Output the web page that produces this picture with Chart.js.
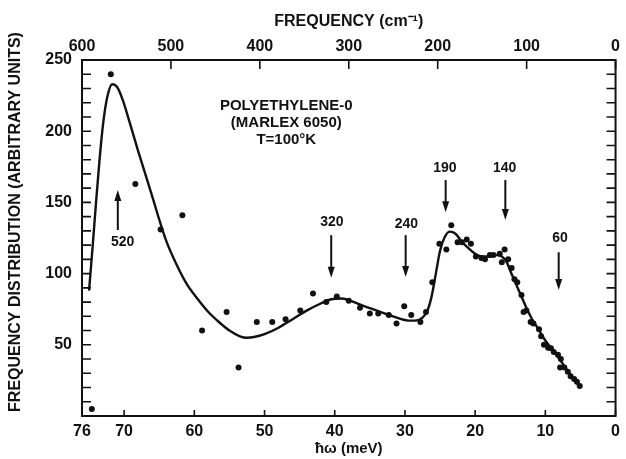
<!DOCTYPE html>
<html>
<head>
<meta charset="utf-8">
<script src="https://cdn.jsdelivr.net/npm/chart.js@4/dist/chart.umd.min.js"></script>
<style>
  html, body { margin: 0; padding: 0; background: #fff; }
  #wrap { width: 626px; height: 459px; }
</style>
</head>
<body>
<div id="wrap"><canvas id="c" width="626" height="459"></canvas></div>
<script>
// Smooth fitted curve: energy (meV) and frequency distribution
const curveMeV = [75.0, 74.5, 74.0, 73.5, 73.0, 72.4, 71.7, 71.0, 70.2, 69.2, 68.0, 66.8, 65.8, 65.0, 64.0, 62.5,
  61.0, 59.5, 58.0, 56.5, 55.0, 53.5, 52.5, 51.5, 50.0, 48.0, 46.0, 44.0, 42.0, 40.5, 39.0, 37.5, 36.0, 34.0,
  32.0, 30.5, 29.5, 28.5, 27.5, 26.8, 26.2, 25.6, 25.0, 24.3, 23.6, 22.8, 22.0, 21.0, 20.0, 19.0, 18.0, 17.0,
  16.2, 15.5, 15.0, 14.3, 13.5, 12.7, 12.0, 11.0, 10.0, 9.0, 8.0, 7.0, 6.0, 5.2];
const curveVal = [88, 118, 150, 180, 205, 224, 233, 231, 222, 206, 186, 167, 151, 138, 123, 106,
  92, 82, 73, 66, 60, 56, 55, 55.5, 57.5, 62, 68, 74, 79, 82, 82.5, 80.5, 77.5, 74,
  70.5, 68, 67, 67, 69, 74, 84, 100, 116, 126, 129.5, 128, 123, 118, 114, 112, 112, 113,
  112, 108, 102, 94, 85, 76, 69, 61, 53, 46.5, 40, 33, 26.5, 21];

// Measured points: energy (meV) and frequency distribution
const pointMeV = [74.6, 71.9, 68.4, 64.8, 61.7, 58.9, 55.4, 53.7, 51.1, 48.9, 47.0, 44.9, 43.1, 41.2, 39.7,
  38.0, 36.4, 35.0, 33.8, 32.3, 31.2, 30.1, 29.1, 27.8, 27.0, 26.1, 25.1, 24.1, 23.4, 22.5, 21.9, 21.2,
  20.6, 19.9, 19.1, 18.6, 17.9, 17.4, 16.5, 15.8, 16.2, 15.3, 14.8, 14.4, 14.0, 13.4, 13.1, 12.7, 12.1,
  11.7, 10.9, 10.6, 10.2, 9.6, 9.2, 8.8, 8.2, 7.8, 7.9, 7.3, 6.8, 6.4, 5.9, 5.5, 5.1];
const pointVal = [5, 240, 163, 131, 141, 60, 73, 34, 66, 66, 68, 74, 86, 80, 84,
  81, 76, 72, 72, 71, 65, 77, 71, 66, 73, 94, 121, 117, 134, 122, 122, 124,
  121, 112, 111, 110, 113, 113, 114, 117, 108, 110, 104, 96, 94, 85, 73, 74, 66,
  65, 61, 56, 50, 48, 47.5, 45, 43, 40, 34, 34, 31, 28, 26, 24, 21];

// Axis tick values
const meVTicks = [76, 70, 60, 50, 40, 30, 20, 10, 0];
const cmTicks = [600, 500, 400, 300, 200, 100, 0];
const yTicks = [50, 100, 150, 200, 250];

// Peak markers (cm^-1 labels), arrow x position in meV, arrow tail/head and label heights
const peakLabels = ['520', '320', '240', '190', '140', '60'];
const peakMeV = [70.9, 40.5, 29.9, 24.2, 15.7, 8.1];
const peakLabelMeV = [70.2, 40.4, 29.8, 24.3, 15.8, 7.9];
const arrowTail = [130.6, 127, 127, 165.7, 165.7, 115];
const arrowHead = [158.7, 97, 97.6, 143, 137.6, 88.5];
const labelVal = [122, 136, 135, 174, 174, 125];

const sampleLines = ['POLYETHYLENE-0', '(MARLEX 6050)', 'T=100°K'];
const yTitle = 'FREQUENCY DISTRIBUTION (ARBITRARY UNITS)';

const INK = '#111';
const FONT = "'Liberation Sans', Arial, sans-serif";

const frameTicks = {
  id: 'frameTicks',
  afterDatasetsDraw(chart) {
    const { ctx, chartArea: a, scales } = chart;
    ctx.save();
    ctx.strokeStyle = INK;
    ctx.lineWidth = 2;
    ctx.strokeRect(a.left, a.top, a.right - a.left, a.bottom - a.top);
    ctx.lineWidth = 1.6;
    ctx.beginPath();
    // minor ticks on left and right every 10 units
    for (let v = 10; v < 250; v += 10) {
      const y = scales.y.getPixelForValue(v);
      ctx.moveTo(a.left, y); ctx.lineTo(a.left + 9, y);
      ctx.moveTo(a.right, y); ctx.lineTo(a.right - 9, y);
    }
    // top ticks at each cm^-1 label
    cmTicks.forEach(v => {
      const x = scales.x2.getPixelForValue(v);
      ctx.moveTo(x, a.top); ctx.lineTo(x, a.top + 9);
    });
    // bottom ticks at each meV label
    meVTicks.forEach(v => {
      const x = scales.x.getPixelForValue(v);
      ctx.moveTo(x, a.bottom); ctx.lineTo(x, a.bottom - 6);
    });
    ctx.stroke();
    ctx.restore();
  }
};

const notes = {
  id: 'notes',
  afterDatasetsDraw(chart) {
    const { ctx, scales } = chart;
    const sx = scales.x, sy = scales.y;
    ctx.save();
    ctx.fillStyle = INK;
    ctx.strokeStyle = INK;
    ctx.textAlign = 'center';
    ctx.textBaseline = 'middle';
    // vertical axis title
    ctx.save();
    ctx.translate(16, 222);
    ctx.rotate(-Math.PI / 2);
    ctx.font = `bold 16px ${FONT}`;
    ctx.fillText(yTitle, 0, 0, 396);
    ctx.restore();
    // sample description
    ctx.font = `bold 15px ${FONT}`;
    const cx = sx.getPixelForValue(46.9);
    sampleLines.forEach((t, i) => {
      ctx.fillText(t, cx, sy.getPixelForValue(218 - i * 12));
    });
    // peak arrows and labels
    ctx.font = `bold 14px ${FONT}`;
    peakLabels.forEach((lab, i) => {
      const x = sx.getPixelForValue(peakMeV[i]);
      const y0 = sy.getPixelForValue(arrowTail[i]);
      const y1 = sy.getPixelForValue(arrowHead[i]);
      const dir = Math.sign(y1 - y0);
      ctx.lineWidth = 2;
      ctx.beginPath();
      ctx.moveTo(x, y0);
      ctx.lineTo(x, y1 - dir * 8);
      ctx.stroke();
      ctx.beginPath();
      ctx.moveTo(x, y1);
      ctx.lineTo(x - 3.5, y1 - dir * 11);
      ctx.lineTo(x + 3.5, y1 - dir * 11);
      ctx.closePath();
      ctx.fill();
      ctx.fillText(lab, sx.getPixelForValue(peakLabelMeV[i]), sy.getPixelForValue(labelVal[i]));
    });
    ctx.restore();
  }
};

const tickFont = { family: FONT, size: 16, weight: 'bold' };

new Chart(document.getElementById('c'), {
  data: {
    datasets: [
      {
        type: 'line',
        data: curveMeV.map((x, i) => ({ x, y: curveVal[i] })),
        borderColor: INK,
        borderWidth: 2.4,
        pointRadius: 0,
        cubicInterpolationMode: 'monotone',
        fill: false
      },
      {
        type: 'scatter',
        data: pointMeV.map((x, i) => ({ x, y: pointVal[i] })),
        backgroundColor: INK,
        borderWidth: 0,
        pointRadius: 3
      }
    ]
  },
  options: {
    responsive: false,
    devicePixelRatio: 1,
    animation: false,
    layout: { padding: { left: 0, right: 6, top: 0, bottom: 0 } },
    plugins: { legend: { display: false }, tooltip: { enabled: false } },
    scales: {
      x: {
        type: 'linear', position: 'bottom', min: 0, max: 76, reverse: true,
        grid: { display: false, drawTicks: false }, border: { display: false },
        afterBuildTicks: s => { s.ticks = meVTicks.map(v => ({ value: v })); },
        afterFit: s => { s.height = 43; },
        ticks: { autoSkip: false, maxRotation: 0, padding: 6, color: INK, font: tickFont },
        title: { display: true, text: 'ħω (meV)', color: INK, font: { family: FONT, size: 15, weight: 'bold' }, padding: { top: 0, bottom: 1 } }
      },
      x2: {
        type: 'linear', position: 'top', min: 0, max: 600, reverse: true,
        grid: { display: false, drawTicks: false }, border: { display: false },
        afterBuildTicks: s => { s.ticks = cmTicks.map(v => ({ value: v })); },
        afterFit: s => { s.height = 60; },
        ticks: { autoSkip: false, maxRotation: 0, padding: 4, color: INK, font: tickFont },
        title: { display: true, text: 'FREQUENCY (cm⁻¹)', color: INK, font: { family: FONT, size: 16, weight: 'bold' }, padding: { top: 12, bottom: 0 } }
      },
      y: {
        type: 'linear', position: 'left', min: 0, max: 250,
        grid: { display: false, drawTicks: false }, border: { display: false },
        afterBuildTicks: s => { s.ticks = yTicks.map(v => ({ value: v })); },
        afterFit: s => { s.width = 82; },
        ticks: { autoSkip: false, padding: 10, color: INK, font: tickFont }
      }
    }
  },
  plugins: [frameTicks, notes]
});
</script>
</body>
</html>
